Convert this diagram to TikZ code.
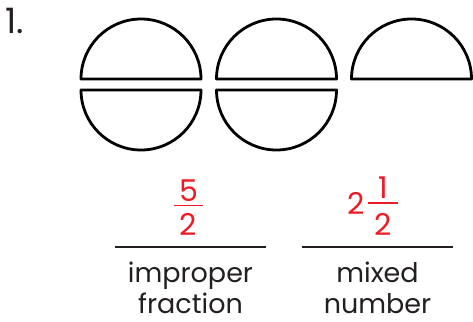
\documentclass[tikz,border=0pt]{standalone}
\usepackage{fontspec}
\setmainfont{Poppins}
\definecolor{ansred}{RGB}{237,28,36}
\definecolor{inkgray}{RGB}{35,31,32}
\usetikzlibrary{positioning}

\begin{document}
\begin{tikzpicture}[x=1pt,y=1pt,
  half/.style={draw=black,line width=2.8pt,line join=round},
  digit/.style={text=ansred,inner sep=0pt,anchor=base,font=\fontsize{30}{30}\selectfont},
  fbar/.style={draw=ansred,line width=1.8pt},
  blank/.style={draw=inkgray,line width=1.6pt},
  term/.style={text=inkgray,inner sep=0pt,anchor=base,align=center,font=\fontsize{27}{31}\selectfont}]
  \useasboundingbox (0,0) rectangle (473,-321);
  \node[inner sep=0pt,anchor=base west,text=inkgray,font=\fontsize{35}{35}\selectfont] (num) at (5,-34) {1.};
  % two wholes and one half
  \foreach \cx in {141,276.5}{
    \draw[half] (\cx+60,-79) arc[start angle=0,end angle=180,radius=60pt] -- cycle;
    \draw[half] (\cx-60,-90) arc[start angle=180,end angle=360,radius=60pt] -- cycle;
  }
  \draw[half] (471.5,-79) arc[start angle=0,end angle=180,radius=60pt] -- cycle;
  % improper fraction
  \node[digit] (five) at (188.5,-201) {5};
  \node[digit] (twoa) at (188.5,-235) {2};
  \draw[fbar] ([shift={(-14.5pt,-4.5pt)}]five.base) -- ([shift={(14.5pt,-4.5pt)}]five.base);
  % mixed number
  \node[digit] (whole) at (356.5,-214) {2};
  \node[digit] (one) at (383,-198) {1};
  \node[digit] (twob) at (383,-235) {2};
  \draw[fbar] ([shift={(-15pt,-5pt)}]one.base) -- ([shift={(15pt,-5pt)}]one.base);
  % answer lines
  \draw[blank] (115,-247) -- (266,-247);
  \draw[blank] (302,-247) -- (453,-247);
  \node[term] (improper) at (190.5,-313) {improper\\fraction};
  \node[term] (mixed) at (377.5,-313) {mixed\\number};
\end{tikzpicture}
\end{document}
